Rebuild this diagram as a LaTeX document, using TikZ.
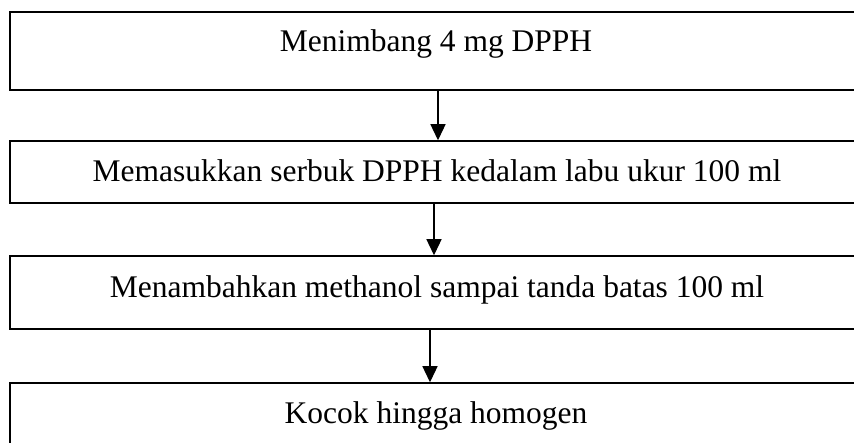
\documentclass[tikz,border=0pt]{standalone}
\usepackage{fontspec}
\setmainfont{Liberation Serif}
\usetikzlibrary{arrows.meta}
\begin{document}
\begin{tikzpicture}[x=1pt,y=-1pt,
  box/.style={draw=black, line width=1.5pt, rectangle, inner sep=0pt, minimum width=870pt},
  lbl/.style={anchor=base, font=\fontsize{31.5}{38}\selectfont, inner sep=0pt},
  arr/.style={line width=1.3pt, -{Triangle[length=16pt,width=15pt]}}]
\useasboundingbox (0,0) rectangle (854,443);
\clip (0,0) rectangle (854,443);
\node[box, minimum height=78pt] (b1) at (445,51) {};
\node[box, minimum height=62pt] (b2) at (445,172) {};
\node[box, minimum height=73pt] (b3) at (445,292.5) {};
\node[box, minimum height=80pt] (b4) at (445,423) {};
\node[lbl] (t1) at (436,52) {Menimbang 4 mg DPPH};
\node[lbl] (t2) at (437,182) {Memasukkan serbuk DPPH kedalam labu ukur 100 ml};
\node[lbl] (t3) at (437,298) {Menambahkan methanol sampai tanda batas 100 ml};
\node[lbl] (t4) at (436,423) {Kocok hingga homogen};
\draw[arr] (438,0 |- b1.south) -- (438,0 |- b2.north);
\draw[arr] (434,0 |- b2.south) -- (434,0 |- b3.north);
\draw[arr] (430,0 |- b3.south) -- (430,0 |- b4.north);
\end{tikzpicture}
\end{document}
